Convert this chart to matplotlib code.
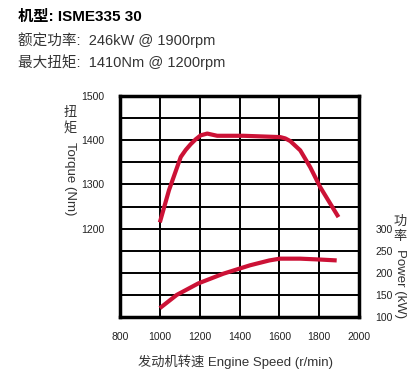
import numpy as np
import matplotlib
matplotlib.use('Agg')
import matplotlib.pyplot as plt

plt.rcParams['font.family'] = ['Liberation Sans', 'Noto Sans CJK SC']

# data
torque_rpm = [1000, 1046, 1105, 1130, 1155, 1180, 1205, 1238, 1288, 1420, 1605, 1630, 1655, 1705, 1755, 1805, 1855, 1897]
torque_nm = [1214, 1287, 1362, 1378, 1391, 1402, 1411, 1415, 1410, 1410, 1407, 1404, 1398, 1377, 1339, 1294, 1257, 1226]
power_rpm = [1000, 1085, 1193, 1319, 1453, 1550, 1603, 1704, 1804, 1888]
power_kw = [120, 150, 176, 198, 217, 228, 232, 232, 230, 228]

x_ticks = [800, 1000, 1200, 1400, 1600, 1800, 2000]
torque_labels = [1200, 1300, 1400, 1500]
power_labels = [100, 150, 200, 250, 300]

W, H = 414, 378
red = '#cc1236'
grey = '#333333'

fig = plt.figure(figsize=(W / 100, H / 100), dpi=100)
ax = fig.add_axes([120 / W, (H - 317) / H, (359 - 120) / W, (317 - 96) / H])

ax.set_xlim(800, 2000)
ax.set_ylim(1000, 1500)
ax.set_xticks(x_ticks)
ax.set_xticklabels([str(v) for v in x_ticks])
yt = np.arange(1000, 1501, 50)
ax.set_yticks(yt)
ax.set_yticklabels([str(v) if v in torque_labels else '' for v in yt])
ax.grid(True, color='black', linewidth=1.4)
ax.tick_params(length=0, labelsize=7.5, colors='#222222', pad=11)
for s in ax.spines.values():
    s.set_linewidth(2.5)

ax.plot(torque_rpm, torque_nm, color=red, linewidth=3, solid_capstyle='butt', zorder=5)

ax2 = ax.twinx()
ax2.set_ylim(100, 600)
ax2.set_yticks(power_labels)
ax2.tick_params(length=0, labelsize=7.5, colors='#222222', pad=12)
for s in ax2.spines.values():
    s.set_visible(False)
ax2.plot(power_rpm, power_kw, color=red, linewidth=3, solid_capstyle='butt', zorder=5)

def ftext(x, y, s, **kw):
    fig.text(x / W, 1 - y / H, s, **kw)

# header lines
ftext(18, 17, '机型: ISME335 30', fontsize=11, fontweight='bold', va='center', color='black')
ftext(18, 40, '额定功率:  246kW @ 1900rpm', fontsize=10.5, va='center', color=grey)
ftext(18, 62, '最大扭矩:  1410Nm @ 1200rpm', fontsize=10.5, va='center', color=grey)

# left axis label
ftext(70, 113, '扭', fontsize=9.5, ha='center', va='center', color=grey)
ftext(70, 129, '矩', fontsize=9.5, ha='center', va='center', color=grey)
ftext(70, 179, 'Torque (Nm)', fontsize=9.5, rotation=-90, ha='center', va='center', color=grey)

# right axis label
ftext(400, 222, '功', fontsize=9.5, ha='center', va='center', color=grey)
ftext(400, 237, '率', fontsize=9.5, ha='center', va='center', color=grey)
ftext(400, 284, 'Power (kW)', fontsize=9.5, rotation=-90, ha='center', va='center', color=grey)

# x label
ftext(236, 362, '发动机转速 Engine Speed (r/min)', fontsize=9.5, ha='center', va='center', color=grey)

fig.savefig('out.png', dpi=100)
